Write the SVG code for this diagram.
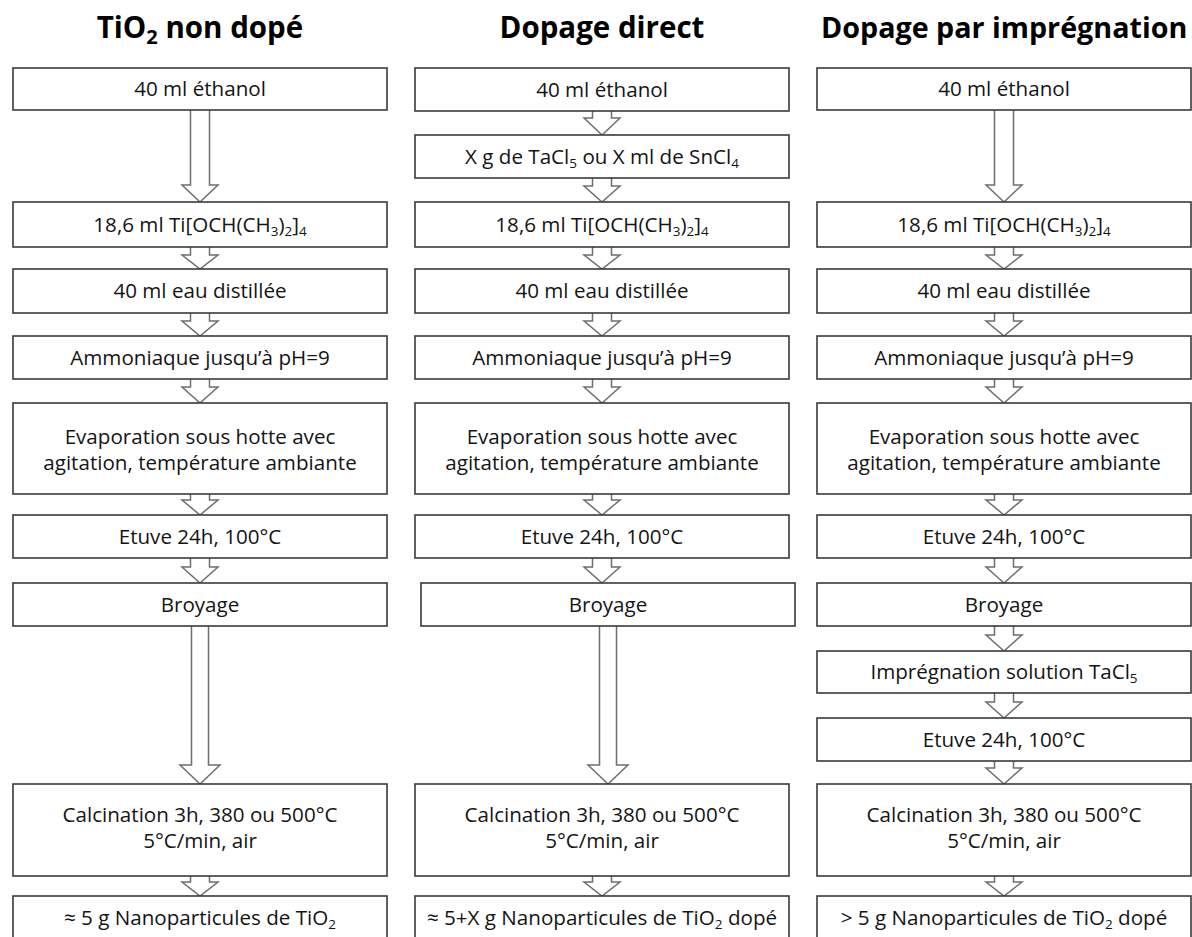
<svg xmlns="http://www.w3.org/2000/svg" width="1192" height="937" viewBox="0 0 1192 937">
<style>
.box{fill:#fff;stroke:#3a3a3a;stroke-width:1.6}
.arr{fill:#fff;stroke:#6e6e6e;stroke-width:1.5;stroke-linejoin:miter}
.t{font-family:"Open Sans","Liberation Sans",sans-serif;font-size:20.6px;fill:#141414;text-anchor:middle}
.h{font-family:"Open Sans","Liberation Sans",sans-serif;font-size:29.5px;font-weight:bold;fill:#000;text-anchor:middle}
.s{font-size:13.5px}
.hs{font-size:20px}
</style>
<rect width="1192" height="937" fill="#fff"/>

<g id="titles">
<text class="h" x="200" y="38">TiO<tspan class="hs" dy="6">2</tspan><tspan dy="-6"> non dopé</tspan></text>
<text class="h" x="602" y="38">Dopage direct</text>
<text class="h" x="821" y="38" style="text-anchor:start;font-size:28.7px">Dopage par imprégnation</text>
</g>

<g id="connectors">
<!-- column 1 -->
<path class="arr" d="M190.5,110 V185 H182 L200,202 L218,185 H209.5 V110"/>
<path class="arr" d="M190.5,247 V255 H182 L200,269 L218,255 H209.5 V247"/>
<path class="arr" d="M190.5,313 V321 H182 L200,336 L218,321 H209.5 V313"/>
<path class="arr" d="M190.5,379 V387 H182 L200,403 L218,387 H209.5 V379"/>
<path class="arr" d="M190.5,494 V500 H182 L200,515 L218,500 H209.5 V494"/>
<path class="arr" d="M190.5,558 V567 H182 L200,583 L218,567 H209.5 V558"/>
<path class="arr" d="M191.5,626 V765 H180 L200,784 L220,765 H208.5 V626"/>
<path class="arr" d="M190.5,876 V882 H182 L200,896 L218,882 H209.5 V876"/>
<!-- column 2 -->
<path class="arr" d="M592.5,110 V118 H584 L602,135 L620,118 H611.5 V110"/>
<path class="arr" d="M592.5,178 V186 H584 L602,202 L620,186 H611.5 V178"/>
<path class="arr" d="M592.5,247 V255 H584 L602,269 L620,255 H611.5 V247"/>
<path class="arr" d="M592.5,313 V321 H584 L602,336 L620,321 H611.5 V313"/>
<path class="arr" d="M592.5,379 V387 H584 L602,403 L620,387 H611.5 V379"/>
<path class="arr" d="M592.5,494 V500 H584 L602,515 L620,500 H611.5 V494"/>
<path class="arr" d="M592.5,558 V567 H584 L602,583 L620,567 H611.5 V558"/>
<path class="arr" d="M599.5,626 V765 H588 L608,784 L628,765 H616.5 V626"/>
<path class="arr" d="M592.5,876 V882 H584 L602,896 L620,882 H611.5 V876"/>
<!-- column 3 -->
<path class="arr" d="M994.5,110 V185 H986 L1004,202 L1022,185 H1013.5 V110"/>
<path class="arr" d="M994.5,247 V255 H986 L1004,269 L1022,255 H1013.5 V247"/>
<path class="arr" d="M994.5,313 V321 H986 L1004,336 L1022,321 H1013.5 V313"/>
<path class="arr" d="M994.5,379 V387 H986 L1004,403 L1022,387 H1013.5 V379"/>
<path class="arr" d="M994.5,494 V500 H986 L1004,515 L1022,500 H1013.5 V494"/>
<path class="arr" d="M994.5,558 V567 H986 L1004,583 L1022,567 H1013.5 V558"/>
<path class="arr" d="M994.5,626 V635 H986 L1004,651 L1022,635 H1013.5 V626"/>
<path class="arr" d="M994.5,693 V702 H986 L1004,718 L1022,702 H1013.5 V693"/>
<path class="arr" d="M994.5,761 V768 H986 L1004,784 L1022,768 H1013.5 V761"/>
<path class="arr" d="M994.5,876 V882 H986 L1004,896 L1022,882 H1013.5 V876"/>
</g>

<!-- Column 1 -->
<g id="c1-ethanol"><rect class="box" x="13" y="68" width="374" height="42"/><text class="t" x="200" y="96">40 ml éthanol</text></g>
<g id="c1-tiopr"><rect class="box" x="13" y="202" width="374" height="45"/><text class="t" x="200" y="231.5">18,6 ml Ti[OCH(CH<tspan class="s" dy="4">3</tspan><tspan dy="-4">)</tspan><tspan class="s" dy="4">2</tspan><tspan dy="-4">]</tspan><tspan class="s" dy="4">4</tspan></text></g>
<g id="c1-eau"><rect class="box" x="13" y="269" width="374" height="44"/><text class="t" x="200" y="298">40 ml eau distillée</text></g>
<g id="c1-ammoniaque"><rect class="box" x="13" y="336" width="374" height="43"/><text class="t" x="200" y="364.5">Ammoniaque jusqu’à  pH=9</text></g>
<g id="c1-evaporation"><rect class="box" x="13" y="403" width="374" height="91"/><text class="t" x="200" y="444">Evaporation sous hotte  avec</text><text class="t" x="200" y="470">agitation, température ambiante</text></g>
<g id="c1-etuve"><rect class="box" x="13" y="515" width="374" height="43"/><text class="t" x="200" y="543.5">Etuve 24h, 100°C</text></g>
<g id="c1-broyage"><rect class="box" x="13" y="583" width="374" height="43"/><text class="t" x="200" y="611.5">Broyage</text></g>
<g id="c1-calcination"><rect class="box" x="13" y="784" width="374" height="92"/><text class="t" x="200" y="822">Calcination 3h, 380 ou  500°C</text><text class="t" x="200" y="848">5°C/min, air</text></g>
<g id="c1-produit"><rect class="box" x="13" y="896" width="374" height="60"/><text class="t" x="200" y="925">≈ 5 g Nanoparticules de TiO<tspan class="s" dy="4">2</tspan></text></g>

<!-- Column 2 -->
<g id="c2-ethanol"><rect class="box" x="415" y="68" width="374" height="43"/><text class="t" x="602" y="96.5">40 ml éthanol</text></g>
<g id="c2-dopant"><rect class="box" x="415" y="135" width="374" height="43"/><text class="t" x="602" y="163.5">X g de TaCl<tspan class="s" dy="4">5</tspan><tspan dy="-4"> ou X ml de SnCl</tspan><tspan class="s" dy="4">4</tspan></text></g>
<g id="c2-tiopr"><rect class="box" x="415" y="202" width="374" height="45"/><text class="t" x="602" y="231.5">18,6 ml Ti[OCH(CH<tspan class="s" dy="4">3</tspan><tspan dy="-4">)</tspan><tspan class="s" dy="4">2</tspan><tspan dy="-4">]</tspan><tspan class="s" dy="4">4</tspan></text></g>
<g id="c2-eau"><rect class="box" x="415" y="269" width="374" height="44"/><text class="t" x="602" y="298">40 ml eau distillée</text></g>
<g id="c2-ammoniaque"><rect class="box" x="415" y="336" width="374" height="43"/><text class="t" x="602" y="364.5">Ammoniaque jusqu’à  pH=9</text></g>
<g id="c2-evaporation"><rect class="box" x="415" y="403" width="374" height="91"/><text class="t" x="602" y="444">Evaporation sous hotte  avec</text><text class="t" x="602" y="470">agitation, température ambiante</text></g>
<g id="c2-etuve"><rect class="box" x="415" y="515" width="374" height="43"/><text class="t" x="602" y="543.5">Etuve 24h, 100°C</text></g>
<g id="c2-broyage"><rect class="box" x="421" y="583" width="374" height="43"/><text class="t" x="608" y="611.5">Broyage</text></g>
<g id="c2-calcination"><rect class="box" x="415" y="784" width="374" height="92"/><text class="t" x="602" y="822">Calcination 3h, 380 ou  500°C</text><text class="t" x="602" y="848">5°C/min, air</text></g>
<g id="c2-produit"><rect class="box" x="415" y="896" width="374" height="60"/><text class="t" x="602" y="925">≈ 5+X g Nanoparticules de TiO<tspan class="s" dy="4">2</tspan><tspan dy="-4"> dopé</tspan></text></g>

<!-- Column 3 -->
<g id="c3-ethanol"><rect class="box" x="817" y="68" width="374" height="42"/><text class="t" x="1004" y="96">40 ml éthanol</text></g>
<g id="c3-tiopr"><rect class="box" x="817" y="202" width="374" height="45"/><text class="t" x="1004" y="231.5">18,6 ml Ti[OCH(CH<tspan class="s" dy="4">3</tspan><tspan dy="-4">)</tspan><tspan class="s" dy="4">2</tspan><tspan dy="-4">]</tspan><tspan class="s" dy="4">4</tspan></text></g>
<g id="c3-eau"><rect class="box" x="817" y="269" width="374" height="44"/><text class="t" x="1004" y="298">40 ml eau distillée</text></g>
<g id="c3-ammoniaque"><rect class="box" x="817" y="336" width="374" height="43"/><text class="t" x="1004" y="364.5">Ammoniaque jusqu’à  pH=9</text></g>
<g id="c3-evaporation"><rect class="box" x="817" y="403" width="374" height="91"/><text class="t" x="1004" y="444">Evaporation sous hotte  avec</text><text class="t" x="1004" y="470">agitation, température ambiante</text></g>
<g id="c3-etuve"><rect class="box" x="817" y="515" width="374" height="43"/><text class="t" x="1004" y="543.5">Etuve 24h, 100°C</text></g>
<g id="c3-broyage"><rect class="box" x="817" y="583" width="374" height="43"/><text class="t" x="1004" y="611.5">Broyage</text></g>
<g id="c3-impregnation"><rect class="box" x="817" y="651" width="374" height="42"/><text class="t" x="1004" y="679">Imprégnation solution TaCl<tspan class="s" dy="4">5</tspan></text></g>
<g id="c3-etuve2"><rect class="box" x="817" y="718" width="374" height="43"/><text class="t" x="1004" y="746.5">Etuve 24h, 100°C</text></g>
<g id="c3-calcination"><rect class="box" x="817" y="784" width="374" height="92"/><text class="t" x="1004" y="822">Calcination 3h, 380 ou  500°C</text><text class="t" x="1004" y="848">5°C/min, air</text></g>
<g id="c3-produit"><rect class="box" x="817" y="896" width="374" height="60"/><text class="t" x="1004" y="925">&gt; 5 g Nanoparticules de TiO<tspan class="s" dy="4">2</tspan><tspan dy="-4"> dopé</tspan></text></g>
</svg>
